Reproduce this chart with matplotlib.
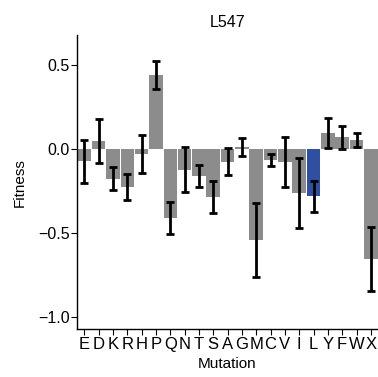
import matplotlib
matplotlib.use("Agg")
import matplotlib.pyplot as plt
import numpy as np

plt.rcParams['font.family'] = ['Liberation Sans', 'DejaVu Sans']

mutations = ["E", "D", "K", "R", "H", "P", "Q", "N", "T", "S", "A",
             "G", "M", "C", "V", "I", "L", "Y", "F", "W", "X"]
fitness = [-0.075, 0.046, -0.177, -0.227, -0.030, 0.440, -0.413, -0.124,
           -0.160, -0.286, -0.077, 0.010, -0.545, -0.067, -0.080, -0.264,
           -0.283, 0.094, 0.068, 0.054, -0.658]
errors = [0.127, 0.129, 0.070, 0.080, 0.112, 0.083, 0.096, 0.132, 0.066,
          0.093, 0.080, 0.052, 0.220, 0.036, 0.148, 0.207, 0.094, 0.088,
          0.068, 0.042, 0.190]
wild_type = "L"
yticks = [0.5, 0.0, -0.5, -1.0]

gray = "#8c8c8c"
blue = "#2f4fa3"
colors = [blue if m == wild_type else gray for m in mutations]

fig = plt.figure(figsize=(3.78, 3.77), dpi=100)
ax = fig.add_axes([0.204, 0.127, 0.796, 0.780])

x = np.arange(len(mutations))
ax.bar(x, fitness, width=0.94, color=colors, zorder=1)
ax.errorbar(x, fitness, yerr=errors, fmt="none", ecolor="black",
            elinewidth=2, capsize=3, capthick=2, zorder=2)

ax.set_xlim(-0.5, len(mutations) - 0.5)
ax.set_ylim(-1.073, 0.677)
ax.set_xticks(x)
ax.set_xticklabels(mutations, fontsize=12)
ax.set_yticks(yticks)
ax.set_yticklabels(["0.5", "0.0", "\u22120.5", "\u22121.0"], fontsize=11.5)
ax.tick_params(axis="both", direction="out", length=4, width=0.8, pad=1.5)
ax.tick_params(axis="x", pad=1.5)

for s in ["top", "right"]:
    ax.spines[s].set_visible(False)
for s in ["left", "bottom"]:
    ax.spines[s].set_linewidth(1.0)

ax.set_title("L547", fontsize=11.5, pad=6)
ax.set_xlabel("Mutation", fontsize=11, labelpad=4)
ax.set_ylabel("Fitness", fontsize=11, labelpad=8)

fig.savefig("out.png", dpi=100)
